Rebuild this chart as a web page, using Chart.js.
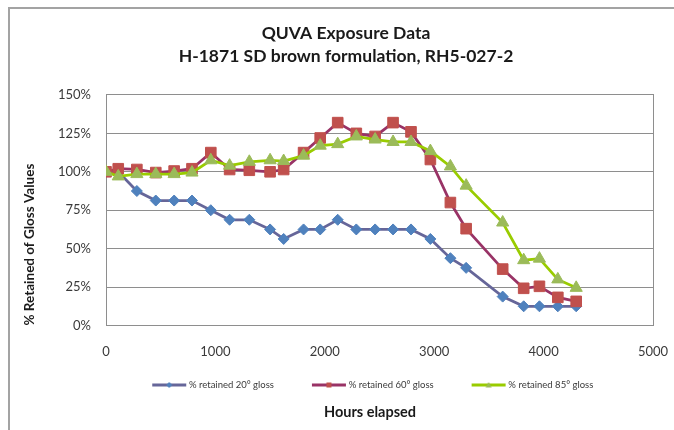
<!DOCTYPE html>
<html>
<head>
<meta charset="utf-8">
<script src="https://cdn.jsdelivr.net/npm/chart.js@4/dist/chart.umd.min.js"></script>
<style>
html,body{margin:0;padding:0;background:#fff;}
#wrap{width:674px;height:430px;position:relative;}
</style>
</head>
<body>
<div id="wrap"><canvas id="c" width="674" height="430"></canvas></div>
<script>
// ---- data ----
const hoursElapsed = [0, 112, 282, 455, 623, 786, 958, 1130, 1310, 1500, 1624, 1806, 1958, 2118, 2288, 2460, 2624, 2788, 2965, 3148, 3292, 3626, 3818, 3962, 4130, 4298];
const retained20 = [100, 100, 87.5, 81.3, 81.3, 81.3, 75, 68.8, 68.8, 62.5, 56.3, 62.5, 62.5, 68.8, 62.5, 62.5, 62.5, 62.5, 56.3, 43.8, 37.5, 18.8, 12.5, 12.5, 12.5, 12.5];
const retained60 = [100, 102, 101.5, 99.5, 100.5, 102, 112.5, 101.5, 101, 100, 101.5, 112.5, 122, 132, 125, 123, 132, 126, 108, 80, 63, 36.7, 24.2, 25.5, 18.3, 15.7];
const retained85 = [100, 97, 98.5, 98.5, 98.5, 99.5, 107.5, 104, 106.5, 107.5, 107, 110.5, 117, 118, 123, 121, 119.4, 119.4, 113.5, 103.5, 91, 67, 42.5, 43.5, 30, 24.5];
const seriesNames = ['% retained 20° gloss', '% retained 60° gloss', '% retained 85° gloss'];
const xTickLabels = [0, 1000, 2000, 3000, 4000, 5000];
const yTickLabels = [0, 25, 50, 75, 100, 125, 150];
const chartTitle = ['QUVA Exposure Data', 'H-1871 SD brown formulation, RH5-027-2'];
const xTitle = 'Hours elapsed';
const yTitle = '% Retained of Gloss Values';

// ---- styles ----
const lineColors = ['#666699', '#993366', '#99CC00'];
const markerColors = ['#4F81BD', '#C0504D', '#9BBB59'];
const markerShapes = ['rectRot', 'rect', 'triangle'];
const markerSizes = [5.5, 7.5, 7];
const FONT = 'Lato, "Open Sans", "DejaVu Sans", sans-serif';
const gridColor = '#8e8e8e';
const textColor = '#3a3a3a';

// legend icon: transparent lead, then a short line with a small marker
function legendIcon(i) {
  const w = 58, h = 12;
  const c = document.createElement('canvas');
  c.width = w; c.height = h;
  const g = c.getContext('2d');
  const x0 = 23, x1 = 57, cy = 6;
  g.strokeStyle = lineColors[i];
  g.lineWidth = 3;
  g.beginPath(); g.moveTo(x0, cy); g.lineTo(x1, cy); g.stroke();
  g.fillStyle = markerColors[i];
  const cx = (x0 + x1) / 2;
  g.beginPath();
  if (markerShapes[i] === 'rectRot') {
    g.moveTo(cx, cy - 3); g.lineTo(cx + 3, cy); g.lineTo(cx, cy + 3); g.lineTo(cx - 3, cy);
  } else if (markerShapes[i] === 'rect') {
    g.rect(cx - 2.5, cy - 2.5, 5, 5);
  } else {
    g.moveTo(cx, cy - 3); g.lineTo(cx + 3, cy + 2.5); g.lineTo(cx - 3, cy + 2.5);
  }
  g.closePath(); g.fill();
  return c;
}
const legendIcons = [0, 1, 2].map(legendIcon);

function makeSeries(vals) {
  return hoursElapsed.map((h, k) => ({x: h, y: vals[k]}));
}
const seriesValues = [retained20, retained60, retained85];

const datasets = seriesValues.map((vals, i) => ({
  label: seriesNames[i],
  data: makeSeries(vals),
  borderColor: lineColors[i],
  backgroundColor: markerColors[i],
  borderWidth: 2.75,
  pointStyle: markerShapes[i],
  pointRadius: markerSizes[i],
  pointHoverRadius: markerSizes[i],
  pointBackgroundColor: markerColors[i],
  pointBorderColor: markerColors[i],
  pointBorderWidth: 1,
  showLine: true,
  tension: 0,
  order: 3 - i,
  xAxisID: 'x',
  yAxisID: 'y'
}));

const framePlugin = {
  id: 'frame',
  beforeDraw(chart) {
    const ctx = chart.ctx;
    ctx.save();
    ctx.fillStyle = '#fff';
    ctx.fillRect(0, 0, chart.width, chart.height);
    ctx.fillStyle = '#a3a3a3';
    ctx.fillRect(8, 7, 2, chart.height);
    ctx.fillRect(8, 7, chart.width, 2);
    ctx.restore();
  }
};

function shiftBox(b, dx) { if (b) { b.left += dx; b.right += dx; } }
const placePlugin = {
  id: 'place',
  afterLayout(chart) {
    shiftBox(chart.legend, -16.75);
    shiftBox(chart.titleBlock, 4);
    const sub = chart.boxes.find(b => b !== chart.titleBlock && b.options && b.options.text === xTitle);
    shiftBox(sub, -9.5);
  }
};

new Chart(document.getElementById('c'), {
  type: 'scatter',
  data: {datasets},
  plugins: [framePlugin, placePlugin],
  options: {
    responsive: false,
    animation: false,
    devicePixelRatio: 1,
    layout: {padding: {left: 10, right: 0, top: 8, bottom: 0}},
    plugins: {
      tooltip: {enabled: false},
      title: {
        display: true,
        text: chartTitle,
        color: '#1a1a1a',
        font: {family: FONT, size: 17.5, weight: 'bold', lineHeight: 1.31},
        padding: {top: 14, bottom: 27.1}
      },
      subtitle: {
        display: true,
        position: 'bottom',
        fullSize: false,
        text: xTitle,
        color: '#1a1a1a',
        font: {family: FONT, size: 14.5, weight: 'bold', lineHeight: 1.2},
        padding: {top: 3.55, bottom: 9.3}
      },
      legend: {
        display: true,
        position: 'bottom',
        fullSize: false,
        labels: {
          usePointStyle: true,
          pointStyleWidth: 52,
          padding: 18,
          color: textColor,
          font: {family: FONT, size: 9.5},
          sort: (a, b) => a.datasetIndex - b.datasetIndex,
          generateLabels(chart) {
            const items = Chart.defaults.plugins.legend.labels.generateLabels(chart);
            items.forEach(it => { it.pointStyle = legendIcons[it.datasetIndex]; });
            return items;
          }
        }
      }
    },
    scales: {
      x: {
        type: 'linear',
        position: 'bottom',
        min: xTickLabels[0],
        max: xTickLabels[xTickLabels.length - 1],
        afterBuildTicks(s) { s.ticks = xTickLabels.map(v => ({value: v})); },
        grid: {display: false, drawTicks: true, tickLength: 16.5},
        border: {display: true, color: gridColor, width: 1},
        ticks: {color: textColor, font: {family: FONT, size: 13}, padding: 2, maxRotation: 0, autoSkip: false, callback: v => String(v)},
        afterFit(s) { s.height = 36.75; }
      },
      y: {
        type: 'linear',
        position: 'left',
        min: yTickLabels[0],
        max: yTickLabels[yTickLabels.length - 1],
        afterBuildTicks(s) { s.ticks = yTickLabels.map(v => ({value: v})); },
        grid: {display: true, color: gridColor, lineWidth: 1, drawTicks: false},
        border: {display: true, color: gridColor, width: 1},
        ticks: {color: textColor, font: {family: FONT, size: 13}, padding: 15, callback: v => v + '%'},
        title: {
          display: true,
          text: yTitle,
          align: 'start',
          color: '#1a1a1a',
          font: {family: FONT, size: 13.5, weight: 'bold', lineHeight: 1.2},
          padding: {top: 11.9, bottom: 0}
        },
        afterFit(s) { s.width = 96; }
      },
      y2: {
        type: 'linear',
        position: 'right',
        min: yTickLabels[0],
        max: yTickLabels[yTickLabels.length - 1],
        grid: {display: false, drawTicks: false},
        border: {display: true, color: gridColor, width: 1},
        ticks: {display: false},
        afterFit(s) { s.width = 21; }
      }
    }
  }
});
</script>
</body>
</html>
